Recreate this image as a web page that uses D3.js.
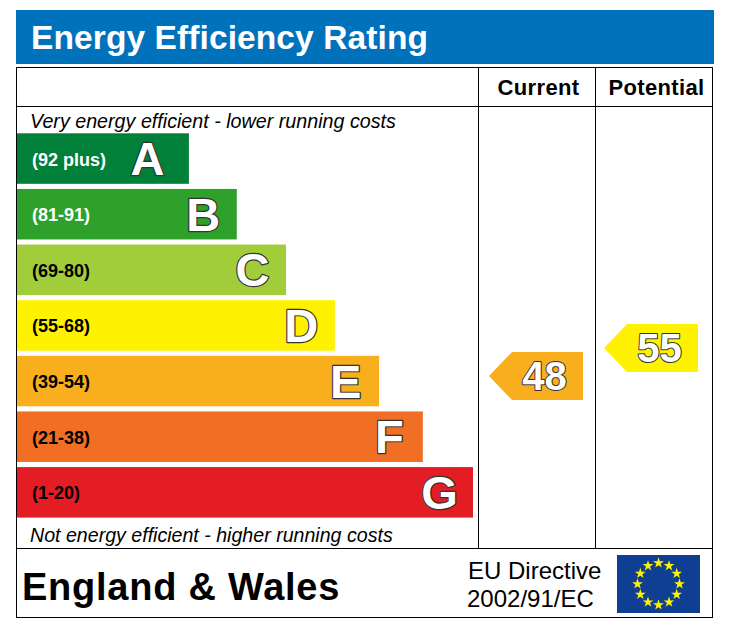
<!DOCTYPE html>
<html>
<head>
<meta charset="utf-8">
<title>Energy Efficiency Rating</title>
<script src="https://cdn.jsdelivr.net/npm/d3@7"></script>
<style>
html, body { margin: 0; padding: 0; background: #fff; }
svg { display: block; }
text { font-family: "Liberation Sans", Arial, sans-serif; }
</style>
</head>
<body>
<div id="chart"></div>
<script>
const bands = ['A', 'B', 'C', 'D', 'E', 'F', 'G']
const ranges = ['(92 plus)', '(81-91)', '(69-80)', '(55-68)', '(39-54)', '(21-38)', '(1-20)']
const barLengths = [37.7, 48.2, 59, 69.7, 79.4, 89, 100]
const bandColors = ['#008039', '#2da12a', '#a2cd3a', '#fff200', '#f9ae1e', '#f06f24', '#e31d23']
const rangeColors = ['#fff', '#fff', '#000', '#000', '#000', '#000', '#000']
const columns = ['Current', 'Potential']
const scores = [48, 55]
const scoreColors = ['#f9ae1e', '#fff200']

const w = 730, h = 630
const svg = d3.select('#chart').append('svg').attr('width', w).attr('height', h)

// header
svg.append('rect').attr('x', 16).attr('y', 10).attr('width', 698).attr('height', 54).attr('fill', '#0072bc')
svg.append('text').attr('x', 31).attr('y', 49).attr('fill', '#fff')
    .style('font-weight', 'bold').style('font-size', '33.5px').style('letter-spacing', '0.1px')
    .text('Energy Efficiency Rating')

// frame
const frame = svg.append('g').attr('stroke', '#000').attr('stroke-width', 1).attr('fill', 'none')
frame.append('rect').attr('x', 16.5).attr('y', 67.5).attr('width', 696).attr('height', 550)
frame.append('path').attr('d', 'M16.5 106.5H712.5M16.5 548.5H712.5M478.5 67.5V548.5M595.5 67.5V548.5')

// bars
const x = d3.scaleLinear().domain([0, 100]).range([17, 473])
const y = d3.scaleBand().domain(bands).range([133.3, 517.6]).paddingInner(0.092)

const rows = svg.selectAll('.row').data(bands).enter().append('g').attr('class', 'row')
rows.append('rect')
    .attr('x', x(0))
    .attr('y', d => y(d))
    .attr('width', (d, i) => x(barLengths[i]) - x(0))
    .attr('height', y.bandwidth())
    .attr('fill', (d, i) => bandColors[i])
rows.append('text')
    .attr('x', 32)
    .attr('y', d => y(d) + y.bandwidth() / 2 + 7)
    .attr('fill', (d, i) => rangeColors[i])
    .style('font-weight', 'bold').style('font-size', '18px')
    .text((d, i) => ranges[i])
rows.append('text')
    .attr('x', (d, i) => x(barLengths[i]) - (d === 'A' ? 41.5 : 33.5))
    .attr('y', d => y(d) + y.bandwidth() / 2 + 16.5)
    .attr('text-anchor', 'middle')
    .attr('fill', '#fff').attr('stroke', '#333').attr('stroke-width', 2.4)
    .attr('stroke-linejoin', 'round')
    .attr('paint-order', 'stroke')
    .style('font-weight', 'bold').style('font-size', '47px')
    .text(d => d)

// captions
svg.append('text').attr('x', 30).attr('y', 128).style('font-style', 'italic').style('font-size', '19.7px')
    .text('Very energy efficient - lower running costs')
svg.append('text').attr('x', 30).attr('y', 542).style('font-style', 'italic').style('font-size', '19.6px')
    .text('Not energy efficient - higher running costs')

// column heads
const colX = d3.scaleBand().domain(columns).range([478.5, 712.5])
svg.selectAll('.colhead').data(columns).enter().append('text')
    .attr('class', 'colhead')
    .attr('x', d => colX(d) + colX.bandwidth() / 2 + (d === 'Current' ? 1.5 : 2.5))
    .attr('y', 95)
    .attr('text-anchor', 'middle')
    .style('font-weight', 'bold').style('font-size', '22px').style('letter-spacing', '0.35px')
    .text(d => d)

// score arrows
const arrowX = d3.scalePoint().domain(columns).range([583, 698])
const scoreY = d3.scaleLinear().domain([0, 100]).range([568, 168])
const arrows = svg.selectAll('.arrow').data(scores).enter().append('g')
    .attr('class', 'arrow')
    .attr('transform', (d, i) => `translate(${arrowX(columns[i])},${scoreY(d)})`)
arrows.append('path')
    .attr('d', 'M0 -24H-71L-94 0L-71 24H0Z')
    .attr('fill', (d, i) => scoreColors[i])
arrows.append('text')
    .attr('x', -38.5).attr('y', 14)
    .attr('text-anchor', 'middle')
    .attr('fill', '#fff').attr('stroke', '#333').attr('stroke-width', 2)
    .attr('stroke-linejoin', 'round')
    .attr('paint-order', 'stroke')
    .style('font-weight', 'bold').style('font-size', '40px')
    .text(d => d)

// footer
svg.append('text').attr('x', 22).attr('y', 600)
    .style('font-weight', 'bold').style('font-size', '38px').style('letter-spacing', '0.75px')
    .text('England & Wales')
svg.append('text').attr('x', 468).attr('y', 579).style('font-size', '24px').text('EU Directive')
svg.append('text').attr('x', 467).attr('y', 607).style('font-size', '24px').text('2002/91/EC')

// EU flag
svg.append('rect').attr('x', 617).attr('y', 555).attr('width', 83).attr('height', 58).attr('fill', '#0f3f93')
const star = d3.symbol().type(d3.symbolStar).size(36)
svg.selectAll('.star').data(d3.range(12)).enter().append('path')
    .attr('class', 'star')
    .attr('d', star)
    .attr('fill', '#fff200')
    .attr('transform', d => {
        const a = d / 12 * 2 * Math.PI - Math.PI / 2
        return `translate(${658.5 + 21 * Math.cos(a)},${584 + 21 * Math.sin(a)})`
    })
</script>
</body>
</html>
